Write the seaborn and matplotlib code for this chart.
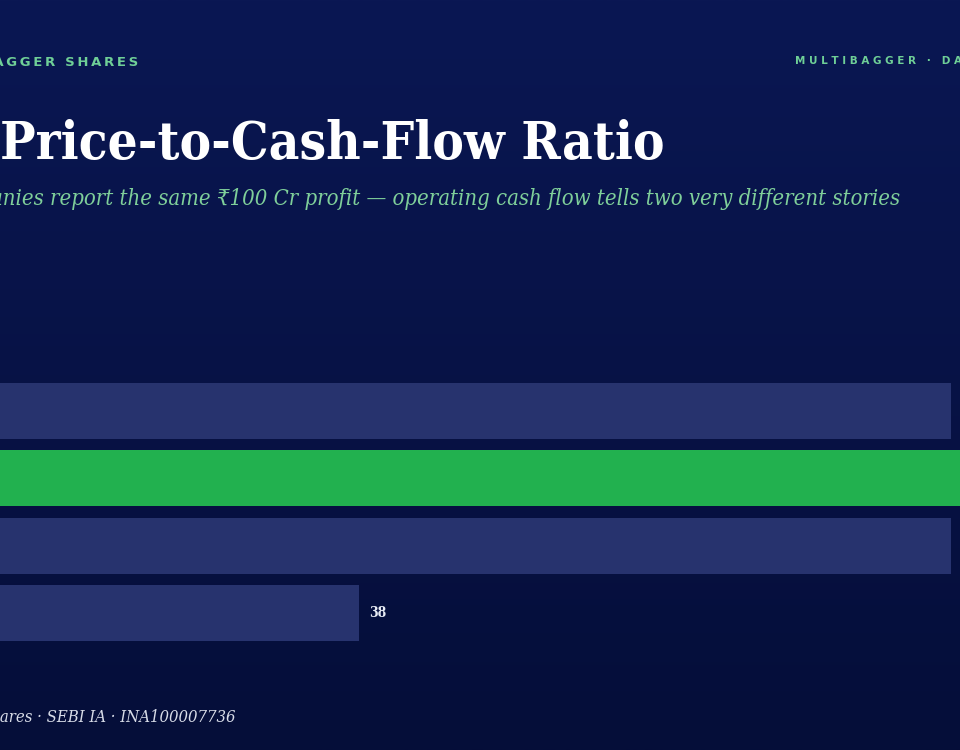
import numpy as np
import pandas as pd
import seaborn as sns
import matplotlib.pyplot as plt
from matplotlib.colors import LinearSegmentedColormap

companies = ["Company A", "Company B", "Company C", "Company D"]
pcf_values = [82.2, 95, 82.2, 38]
value_labels = ["82", "95", "82", "38"]
bar_colors = ["#27336e", "#22b14f", "#27336e", "#27336e"]

sns.set_theme(style="white")
plt.rcParams['font.family'] = ['DejaVu Sans']

fig = plt.figure(figsize=(9.6, 7.5), dpi=100)

# background gradient
bg = fig.add_axes([0, 0, 1, 1])
grad = np.linspace(0, 1, 256).reshape(-1, 1)
cmap = LinearSegmentedColormap.from_list("bg", ["#0a1753", "#050e39"])
bg.imshow(grad, aspect="auto", cmap=cmap, extent=[0, 1, 0, 1])
bg.set_axis_off()

# bar axes: extends past the left edge of the canvas
ax = fig.add_axes([-150 / 960, 103 / 750, 1340 / 960, 270 / 750])
df = pd.DataFrame({"company": companies, "pcf": pcf_values})
sns.barplot(data=df, x="pcf", y="company", hue="company", palette=bar_colors,
            legend=False, width=0.83, ax=ax, saturation=1, linewidth=0,
            edgecolor="none")
ax.set_xlim(0, 100)
ax.set_ylim(3.5, -0.5)
ax.set_axis_off()
ax.patch.set_alpha(0)
for i, (v, lab) in enumerate(zip(pcf_values, value_labels)):
    ax.text(v + 0.75, i, lab, va="center", ha="left", color="#e8ecf5",
            fontsize=10, fontweight="bold", family="DejaVu Serif", stretch="condensed")

sp = "\u2009"
fig.text(138 / 960, 1 - 62 / 750, sp.join("MULTIBAGGER SHARES"), ha="right", va="center",
         color="#6fcf97", fontsize=9.5, fontweight="bold")
fig.text(795 / 960, 1 - 61 / 750, "M U L T I B A G G E R   ·   D A T A", ha="left",
         va="center", color="#6fcf97", fontsize=7.5, fontweight="bold")
fig.text(0, 1 - 145 / 750, "Price-to-Cash-Flow Ratio", ha="left", va="center",
         color="white", fontsize=38, fontweight="bold", family="DejaVu Serif",
         stretch="condensed")
fig.text(900 / 960, 1 - 199 / 750,
         "Two companies report the same \u20b9100 Cr profit \u2014 operating cash flow tells two very different stories",
         ha="right", va="center", color="#7fcf9a", fontsize=15.8, style="italic",
         family="DejaVu Serif", stretch="condensed")
fig.text(236 / 960, 1 - 717 / 750, "Multibagger Shares \u00b7 SEBI IA \u00b7 INA100007736",
         ha="right", va="center", color="#d8dce8", fontsize=12, style="italic",
         family="DejaVu Serif", stretch="condensed")

fig.savefig("out.png", dpi=100)
